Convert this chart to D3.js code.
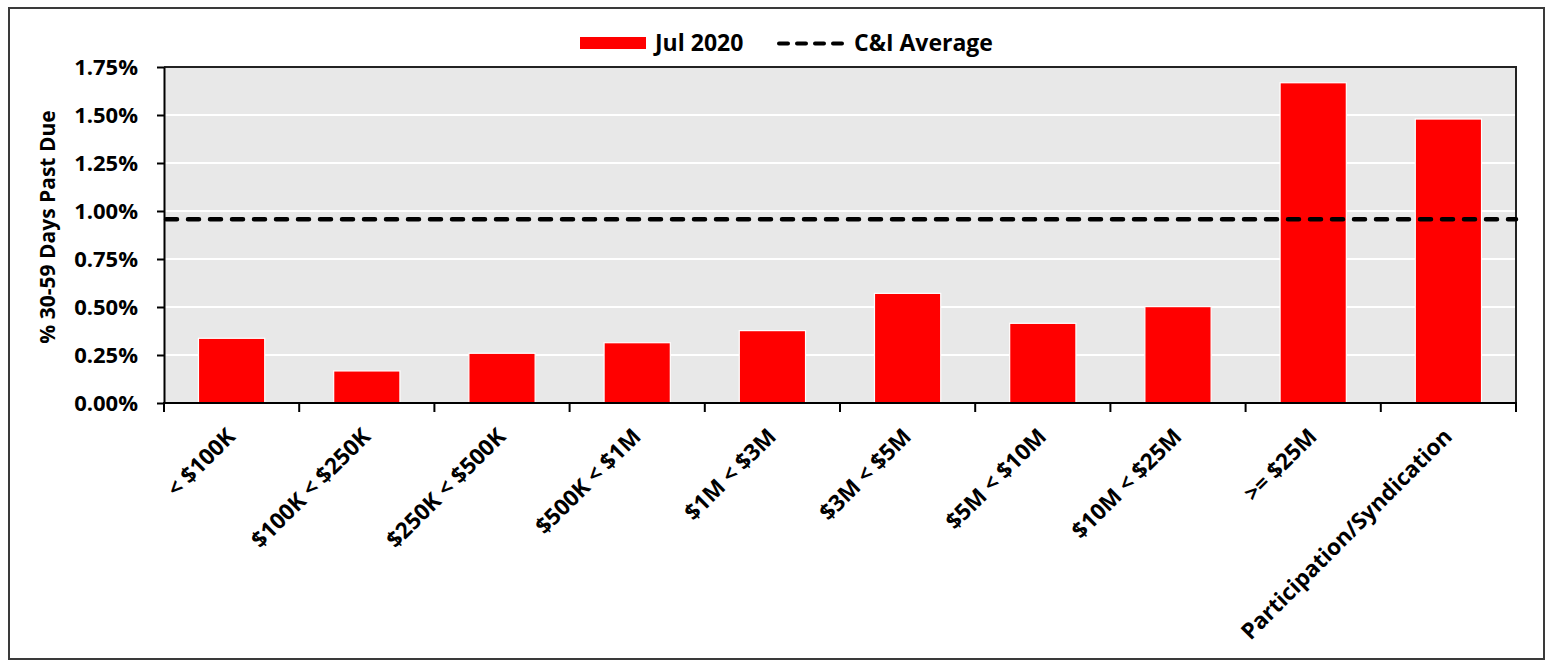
<!DOCTYPE html>
<html>
<head>
<meta charset="utf-8">
<script src="https://cdn.jsdelivr.net/npm/d3@7"></script>
<style>
  body { margin: 0; background: #fff; }
  text { font-family: "Open Sans", "Noto Sans", sans-serif; font-weight: bold; fill: #000; }
</style>
</head>
<body>
<svg id="chart" width="1547" height="661"></svg>
<script>
// Loan-size buckets and their 30-59 day past-due rates (%)
const categories = ["< $100K", "$100K < $250K", "$250K < $500K", "$500K < $1M", "$1M < $3M",
                    "$3M < $5M", "$5M < $10M", "$10M < $25M", ">= $25M", "Participation/Syndication"];
const jul2020 = [0.337, 0.167, 0.259, 0.314, 0.377, 0.571, 0.415, 0.502, 1.668, 1.479];
const ciAverage = 0.957;
const yTicks = [0, 0.25, 0.5, 0.75, 1.0, 1.25, 1.5, 1.75];
const seriesLabel = "Jul 2020";
const averageLabel = "C&I Average";
const yTitle = "% 30-59 Days Past Due";

const svg = d3.select("#chart");
const plot = { left: 164, right: 1516, top: 67, bottom: 403 };

// outer frame
svg.append("rect")
  .attr("x", 9).attr("y", 8).attr("width", 1535).attr("height", 651)
  .attr("fill", "#fff").attr("stroke", "#3a3a3a").attr("stroke-width", 2);

const x = d3.scaleBand().domain(categories).range([plot.left, plot.right]).padding(0);
const y = d3.scaleLinear().domain([0, 1.75]).range([plot.bottom, plot.top]);

// plot background
svg.append("rect")
  .attr("x", plot.left).attr("y", plot.top)
  .attr("width", plot.right - plot.left).attr("height", plot.bottom - plot.top)
  .attr("fill", "#e8e8e8");

// horizontal gridlines
svg.append("g").selectAll("line").data(yTicks.slice(1, -1)).join("line")
  .attr("x1", plot.left).attr("x2", plot.right)
  .attr("y1", d => y(d)).attr("y2", d => y(d))
  .attr("stroke", "#fff").attr("stroke-width", 2);

// bars
const barW = x.bandwidth() * 0.49;
svg.append("g").selectAll("rect").data(jul2020).join("rect")
  .attr("x", (d, i) => x(categories[i]) + (x.bandwidth() - barW) / 2)
  .attr("y", d => y(d))
  .attr("width", barW)
  .attr("height", d => y(0) - y(d))
  .attr("fill", "#ff0000")
  .attr("stroke", "#fff").attr("stroke-width", 1.2);

// plot frame (top/right)
svg.append("path")
  .attr("d", `M${plot.left},${plot.top}H${plot.right}V${plot.bottom}`)
  .attr("fill", "none").attr("stroke", "#222").attr("stroke-width", 2);

// C&I average line
svg.append("line")
  .attr("x1", plot.left + 2).attr("x2", plot.right)
  .attr("y1", y(ciAverage)).attr("y2", y(ciAverage))
  .attr("stroke", "#000").attr("stroke-width", 4.5)
  .attr("stroke-dasharray", "11,11").attr("stroke-linecap", "round");

// y axis
const yAxis = svg.append("g")
  .attr("transform", `translate(${plot.left},0)`)
  .call(d3.axisLeft(y).tickValues(yTicks).tickFormat(d => d3.format(".2f")(d) + "%")
        .tickSize(7).tickSizeOuter(0).tickPadding(19));
yAxis.select(".domain").attr("stroke", "#000").attr("stroke-width", 2);
yAxis.selectAll(".tick line").attr("stroke", "#000").attr("stroke-width", 2);
yAxis.selectAll(".tick text").attr("font-size", 22).attr("dy", "0.35em");

// x axis: ticks at bucket boundaries
const xAxis = svg.append("g").attr("transform", `translate(0,${plot.bottom})`);
xAxis.append("line").attr("x1", plot.left - 1).attr("x2", plot.right + 1)
  .attr("stroke", "#000").attr("stroke-width", 2);
const bounds = categories.map(c => x(c)).concat([plot.right]);
xAxis.selectAll("line.tick").data(bounds).join("line").attr("class", "tick")
  .attr("x1", d => d).attr("x2", d => d).attr("y1", 0).attr("y2", 9)
  .attr("stroke", "#000").attr("stroke-width", 2);
xAxis.selectAll("text").data(categories).join("text")
  .attr("text-anchor", "end")
  .attr("font-size", 22.5)
  .attr("transform", d => `translate(${x(d) + x.bandwidth() / 2 + 5},${35}) rotate(-45)`)
  .text(d => d);

// y axis title
svg.append("text")
  .attr("transform", `translate(55,227) rotate(-90)`)
  .attr("text-anchor", "middle").attr("font-size", 21)
  .text(yTitle);

// legend
const lg = svg.append("g");
lg.append("rect").attr("x", 580).attr("y", 37).attr("width", 66).attr("height", 12).attr("fill", "#ff0000");
lg.append("text").attr("x", 655).attr("y", 51).attr("font-size", 23).text(seriesLabel);
lg.append("line").attr("x1", 779).attr("x2", 846).attr("y1", 43.5).attr("y2", 43.5)
  .attr("stroke", "#000").attr("stroke-width", 4)
  .attr("stroke-dasharray", "9,9").attr("stroke-linecap", "round");
lg.append("text").attr("x", 854).attr("y", 51).attr("font-size", 23).text(averageLabel);
</script>
</body>
</html>
